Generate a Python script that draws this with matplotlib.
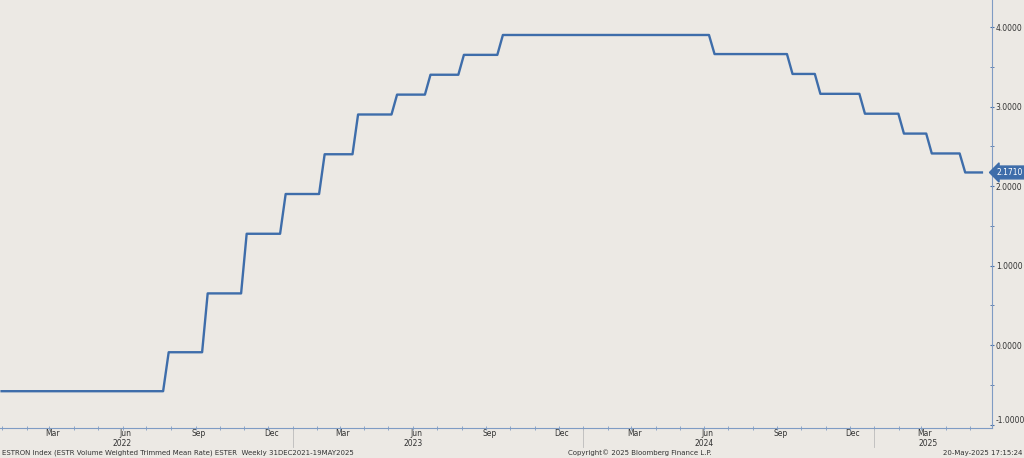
import numpy as np
import matplotlib.pyplot as plt
import matplotlib.dates as mdates
import matplotlib.transforms as mtransforms
import pandas as pd

# ESTR step levels and the dates they take effect
change_dates = ["2021-12-31", "2022-07-27", "2022-09-14", "2022-11-02", "2022-12-21",
                "2023-02-08", "2023-03-22", "2023-05-10", "2023-06-21", "2023-08-02",
                "2023-09-20", "2024-06-12", "2024-09-18", "2024-10-23", "2024-12-18",
                "2025-02-05", "2025-03-12", "2025-04-23"]
levels = [-0.58, -0.09, 0.65, 1.40, 1.90, 2.40, 2.90, 3.15, 3.40, 3.65,
          3.90, 3.66, 3.41, 3.16, 2.91, 2.66, 2.41, 2.171]
last_value = 2.1710

BG = "#ECE9E4"
LINE = "#3E6DAA"

weeks = pd.date_range("2021-12-31", "2025-05-16", freq="7D")
cd = pd.to_datetime(change_dates)
idx = np.searchsorted(cd.values, weeks.values, side="right") - 1
vals = np.array(levels)[idx]

fig = plt.figure(figsize=(10.24, 4.58), dpi=100, facecolor=BG)
ax = fig.add_axes([0.0, 0.066, 0.969, 0.934], facecolor=BG)
ax.plot(weeks, vals, color=LINE, lw=1.7)

ax.set_xlim(pd.Timestamp("2021-12-29"), pd.Timestamp("2025-05-29"))
ax.set_ylim(-1.04, 4.34)

for s in ["top", "left"]:
    ax.spines[s].set_visible(False)
ax.spines["right"].set_color("#7F9CC4")
ax.spines["bottom"].set_color("#7F9CC4")

ax.yaxis.tick_right()
ax.set_yticks([-1, 0, 1, 2, 3, 4])
ax.set_yticks([-0.5, 0.5, 1.5, 2.5, 3.5], minor=True)
ax.yaxis.set_major_formatter(plt.FuncFormatter(lambda y, _: '{:.4f}'.format(y)))
ax.tick_params(axis="y", which="both", colors="#4A6FA5", labelcolor="#333333",
               labelsize=5.5, length=3, direction="inout", pad=1)
for lbl in ax.get_yticklabels():
    lbl.set_verticalalignment("bottom" if lbl.get_text() == "-1.0000" else "center_baseline")

ax.xaxis.set_major_locator(mdates.MonthLocator(bymonth=[3, 6, 9, 12], bymonthday=5))
ax.xaxis.set_major_formatter(mdates.DateFormatter("%b"))
ax.xaxis.set_minor_locator(mdates.MonthLocator())
ax.tick_params(axis="x", which="major", length=0, labelsize=5.5, labelcolor="#333333", pad=1)
ax.tick_params(axis="x", which="minor", length=3, direction="inout", colors="#7F9CC4")

tr = mtransforms.blended_transform_factory(ax.transData, ax.transAxes)
for yr in [2022, 2023, 2024, 2025]:
    mid = pd.Timestamp(f"{yr}-06-01") if yr < 2025 else pd.Timestamp("2025-03-10")
    ax.text(mid, -0.026, str(yr), transform=tr, ha="center", va="top", fontsize=5.5,
            color="#333333", clip_on=False)
    if yr > 2022:
        ax.plot([pd.Timestamp(f"{yr}-01-01")] * 2, [0, -0.045], transform=tr,
                color="#BBBBBB", lw=0.6, clip_on=False)

ax.annotate("2.1710", xy=(1.0, last_value), xycoords=("axes fraction", "data"),
            xytext=(3, 0), textcoords="offset points", ha="left", va="center",
            fontsize=5.5, color="white",
            bbox=dict(boxstyle="larrow,pad=0.25", fc=LINE, ec=LINE))

fig.text(0.002, 0.004, "ESTRON Index (ESTR Volume Weighted Trimmed Mean Rate) ESTER  Weekly 31DEC2021-19MAY2025",
         fontsize=5, color="#333333", ha="left", va="bottom")
fig.text(0.555, 0.004, "Copyright\u00a9 2025 Bloomberg Finance L.P.", fontsize=5,
         color="#333333", ha="left", va="bottom")
fig.text(0.998, 0.004, "20-May-2025 17:15:24", fontsize=5, color="#333333",
         ha="right", va="bottom")

fig.savefig("out.png", dpi=100, facecolor=BG)
